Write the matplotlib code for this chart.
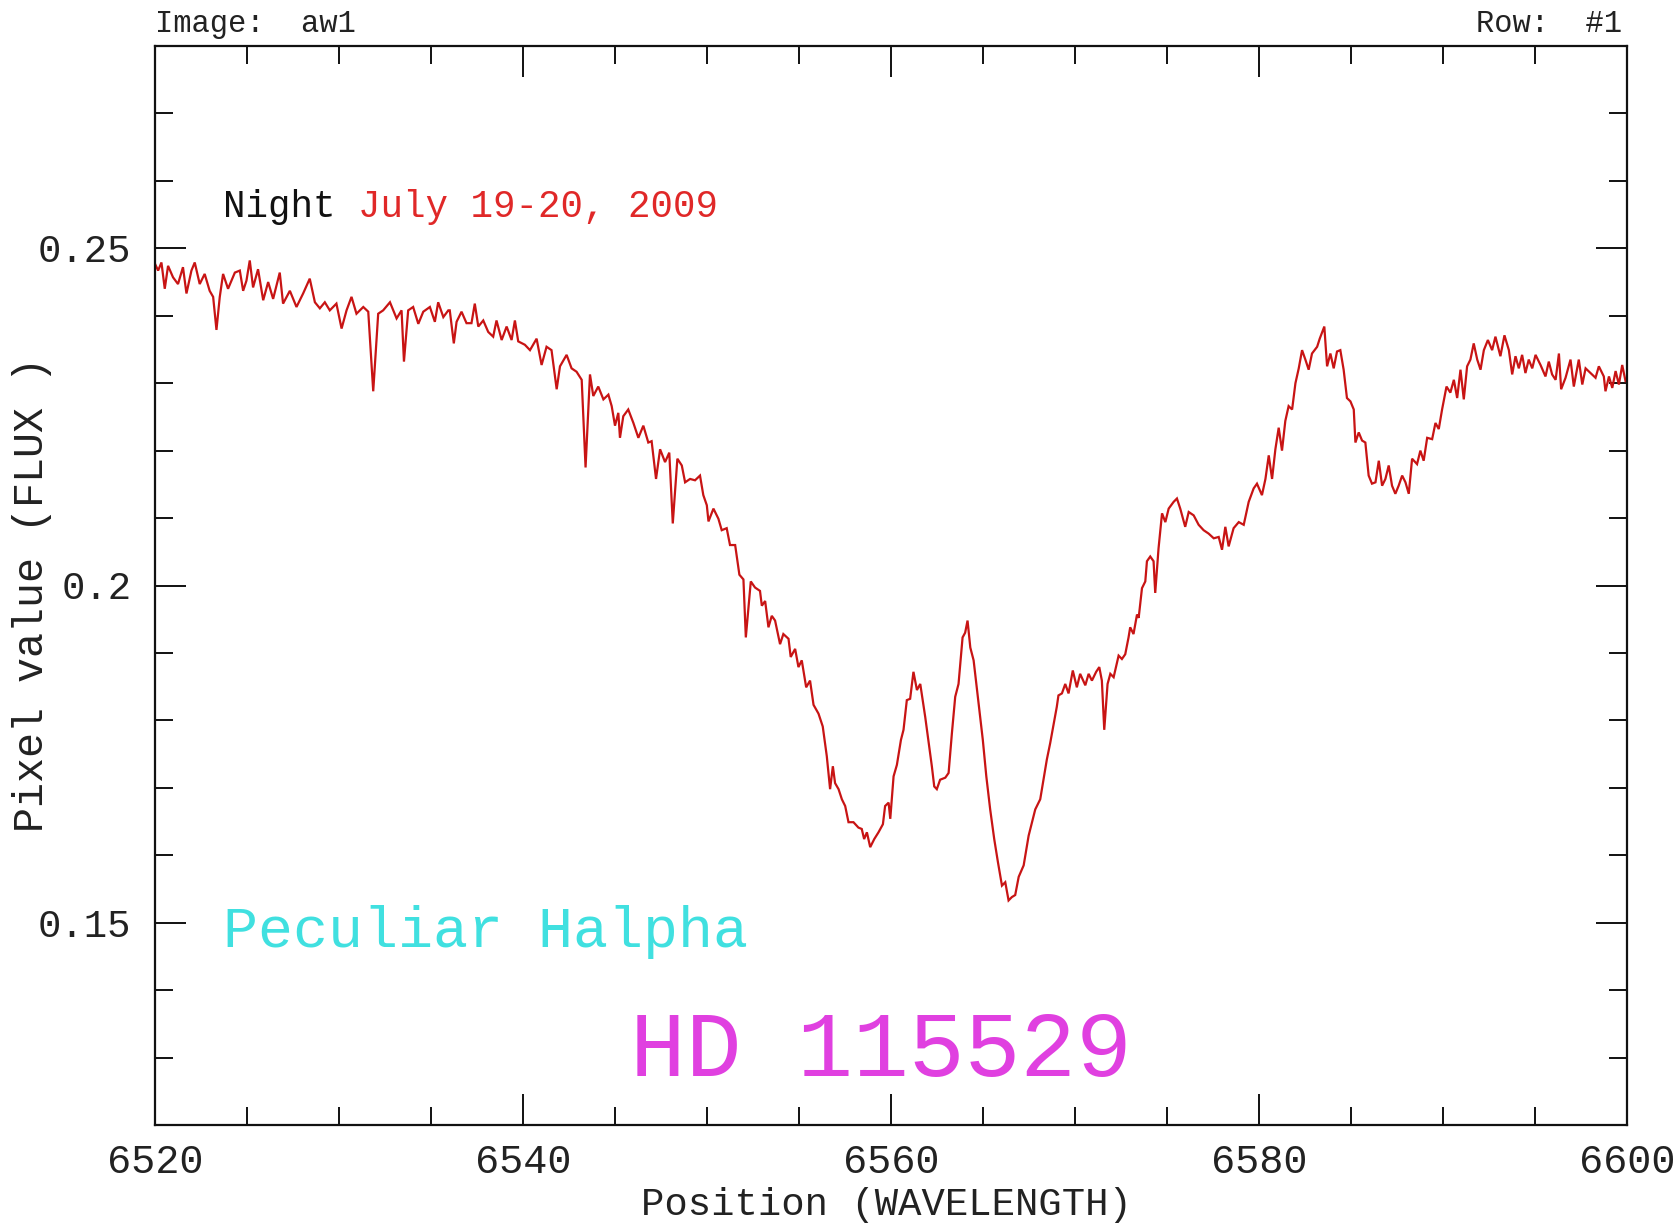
import matplotlib
matplotlib.use("Agg")
import matplotlib.pyplot as plt
from matplotlib.ticker import FixedLocator, MultipleLocator

plt.rcParams["font.family"] = ["Liberation Mono", "DejaVu Sans Mono"]

# Spectrum of HD 115529 around H-alpha (wavelength in Angstrom, flux in pixel units)
wavelength = [
    6520.00, 6520.17, 6520.35, 6520.53, 6520.71, 6520.98, 6521.25, 6521.52, 6521.71, 6521.98,
    6522.16, 6522.43, 6522.70, 6522.97, 6523.16, 6523.34, 6523.52, 6523.70, 6523.97, 6524.34,
    6524.61, 6524.79, 6524.97, 6525.15, 6525.33, 6525.60, 6525.88, 6526.15, 6526.42, 6526.78,
    6526.96, 6527.33, 6527.69, 6528.05, 6528.41, 6528.69, 6528.96, 6529.23, 6529.50, 6529.86,
    6530.14, 6530.41, 6530.68, 6530.95, 6531.32, 6531.59, 6531.86, 6532.13, 6532.40, 6532.77,
    6533.13, 6533.40, 6533.53, 6533.76, 6534.03, 6534.31, 6534.58, 6534.94, 6535.21, 6535.39,
    6535.67, 6535.94, 6536.02, 6536.24, 6536.39, 6536.66, 6536.93, 6537.20, 6537.38, 6537.57,
    6537.84, 6538.11, 6538.38, 6538.56, 6538.84, 6539.11, 6539.38, 6539.56, 6539.74, 6540.10,
    6540.38, 6540.74, 6541.01, 6541.28, 6541.55, 6541.83, 6542.01, 6542.37, 6542.64, 6542.91,
    6543.19, 6543.40, 6543.64, 6543.82, 6544.09, 6544.37, 6544.64, 6544.82, 6545.00, 6545.18,
    6545.27, 6545.45, 6545.72, 6546.00, 6546.27, 6546.54, 6546.81, 6546.99, 6547.23, 6547.45,
    6547.72, 6547.95, 6548.14, 6548.39, 6548.63, 6548.81, 6549.08, 6549.35, 6549.62, 6549.80,
    6549.99, 6550.08, 6550.35, 6550.62, 6550.80, 6551.07, 6551.25, 6551.53, 6551.76, 6551.98,
    6552.11, 6552.38, 6552.61, 6552.88, 6552.98, 6553.16, 6553.34, 6553.52, 6553.70, 6553.97,
    6554.15, 6554.43, 6554.55, 6554.79, 6554.97, 6555.15, 6555.39, 6555.60, 6555.79, 6556.06,
    6556.29, 6556.51, 6556.69, 6556.84, 6556.96, 6557.15, 6557.33, 6557.51, 6557.69, 6557.96,
    6558.23, 6558.41, 6558.54, 6558.69, 6558.87, 6559.09, 6559.32, 6559.56, 6559.68, 6559.87,
    6559.96, 6560.14, 6560.32, 6560.54, 6560.68, 6560.86, 6561.04, 6561.22, 6561.41, 6561.59,
    6561.86, 6562.08, 6562.22, 6562.35, 6562.49, 6562.67, 6562.95, 6563.13, 6563.31, 6563.49,
    6563.67, 6563.89, 6564.03, 6564.16, 6564.31, 6564.49, 6564.76, 6564.99, 6565.18, 6565.39,
    6565.61, 6565.81, 6566.03, 6566.21, 6566.39, 6566.57, 6566.75, 6566.94, 6567.21, 6567.48,
    6567.84, 6568.11, 6568.47, 6568.65, 6568.83, 6569.01, 6569.10, 6569.29, 6569.47, 6569.65,
    6569.88, 6570.10, 6570.28, 6570.56, 6570.74, 6570.92, 6571.15, 6571.32, 6571.46, 6571.59,
    6571.77, 6571.92, 6572.10, 6572.37, 6572.55, 6572.73, 6572.91, 6573.00, 6573.18, 6573.37,
    6573.46, 6573.64, 6573.82, 6573.91, 6574.09, 6574.27, 6574.36, 6574.54, 6574.73, 6574.91,
    6575.09, 6575.36, 6575.54, 6575.72, 6575.99, 6576.18, 6576.45, 6576.72, 6576.99, 6577.26,
    6577.54, 6577.81, 6577.99, 6578.17, 6578.35, 6578.62, 6578.90, 6579.17, 6579.44, 6579.71,
    6579.89, 6580.16, 6580.35, 6580.53, 6580.71, 6580.89, 6581.07, 6581.25, 6581.43, 6581.61,
    6581.80, 6581.98, 6582.16, 6582.34, 6582.52, 6582.70, 6582.88, 6583.16, 6583.30, 6583.55,
    6583.70, 6583.88, 6584.06, 6584.24, 6584.42, 6584.60, 6584.78, 6584.97, 6585.15, 6585.24,
    6585.42, 6585.60, 6585.78, 6585.96, 6586.14, 6586.33, 6586.51, 6586.69, 6586.87, 6587.05,
    6587.23, 6587.41, 6587.59, 6587.78, 6587.96, 6588.14, 6588.32, 6588.59, 6588.77, 6588.95,
    6589.14, 6589.41, 6589.59, 6589.77, 6589.95, 6590.19, 6590.40, 6590.59, 6590.77, 6590.95,
    6591.13, 6591.31, 6591.49, 6591.67, 6591.86, 6592.04, 6592.22, 6592.44, 6592.67, 6592.85,
    6593.12, 6593.34, 6593.58, 6593.76, 6593.94, 6594.12, 6594.30, 6594.48, 6594.66, 6594.85,
    6595.03, 6595.30, 6595.57, 6595.75, 6595.93, 6596.12, 6596.30, 6596.42, 6596.66, 6596.93,
    6597.11, 6597.38, 6597.57, 6597.75, 6598.02, 6598.29, 6598.47, 6598.74, 6598.83, 6599.02,
    6599.20, 6599.38, 6599.56, 6599.74, 6599.92,
]

flux = [
    0.2477, 0.2467, 0.2479, 0.2440, 0.2474, 0.2457, 0.2447, 0.2472, 0.2433, 0.2467,
    0.2479, 0.2447, 0.2462, 0.2437, 0.2428, 0.2379, 0.2428, 0.2462, 0.2440, 0.2464,
    0.2467, 0.2437, 0.2452, 0.2482, 0.2442, 0.2469, 0.2423, 0.2450, 0.2425, 0.2464,
    0.2418, 0.2437, 0.2413, 0.2433, 0.2455, 0.2420, 0.2411, 0.2420, 0.2408, 0.2418,
    0.2381, 0.2408, 0.2428, 0.2403, 0.2413, 0.2406, 0.2288, 0.2403, 0.2408, 0.2420,
    0.2396, 0.2408, 0.2332, 0.2408, 0.2413, 0.2388, 0.2406, 0.2413, 0.2391, 0.2420,
    0.2398, 0.2408, 0.2408, 0.2359, 0.2391, 0.2406, 0.2389, 0.2389, 0.2418, 0.2384,
    0.2393, 0.2376, 0.2369, 0.2393, 0.2364, 0.2384, 0.2364, 0.2393, 0.2362, 0.2357,
    0.2349, 0.2366, 0.2327, 0.2354, 0.2349, 0.2291, 0.2325, 0.2342, 0.2322, 0.2317,
    0.2305, 0.2175, 0.2313, 0.2281, 0.2295, 0.2276, 0.2283, 0.2266, 0.2237, 0.2256,
    0.2219, 0.2251, 0.2261, 0.2241, 0.2219, 0.2237, 0.2212, 0.2214, 0.2158, 0.2202,
    0.2183, 0.2197, 0.2092, 0.2188, 0.2178, 0.2153, 0.2158, 0.2156, 0.2163, 0.2134,
    0.2119, 0.2095, 0.2114, 0.2099, 0.2082, 0.2085, 0.2060, 0.2060, 0.2016, 0.2009,
    0.1923, 0.2006, 0.1997, 0.1992, 0.1970, 0.1977, 0.1938, 0.1955, 0.1948, 0.1913,
    0.1928, 0.1921, 0.1894, 0.1906, 0.1879, 0.1889, 0.1849, 0.1859, 0.1823, 0.1810,
    0.1791, 0.1747, 0.1698, 0.1732, 0.1707, 0.1698, 0.1683, 0.1673, 0.1649, 0.1649,
    0.1641, 0.1639, 0.1624, 0.1634, 0.1612, 0.1624, 0.1634, 0.1646, 0.1673, 0.1678,
    0.1654, 0.1717, 0.1734, 0.1771, 0.1786, 0.1830, 0.1832, 0.1872, 0.1845, 0.1854,
    0.1805, 0.1761, 0.1732, 0.1702, 0.1698, 0.1712, 0.1715, 0.1722, 0.1781, 0.1835,
    0.1854, 0.1923, 0.1930, 0.1948, 0.1908, 0.1889, 0.1825, 0.1771, 0.1717, 0.1668,
    0.1624, 0.1590, 0.1555, 0.1560, 0.1533, 0.1538, 0.1541, 0.1568, 0.1585, 0.1629,
    0.1668, 0.1683, 0.1742, 0.1766, 0.1793, 0.1820, 0.1837, 0.1840, 0.1854, 0.1840,
    0.1874, 0.1849, 0.1869, 0.1852, 0.1869, 0.1859, 0.1872, 0.1879, 0.1859, 0.1786,
    0.1854, 0.1869, 0.1864, 0.1896, 0.1891, 0.1898, 0.1923, 0.1938, 0.1928, 0.1957,
    0.1952, 0.1996, 0.2006, 0.2036, 0.2043, 0.2036, 0.1989, 0.2055, 0.2107, 0.2094,
    0.2114, 0.2124, 0.2129, 0.2114, 0.2087, 0.2109, 0.2104, 0.2090, 0.2082, 0.2077,
    0.2070, 0.2072, 0.2053, 0.2087, 0.2058, 0.2085, 0.2094, 0.2090, 0.2124, 0.2144,
    0.2151, 0.2134, 0.2158, 0.2193, 0.2158, 0.2202, 0.2234, 0.2200, 0.2244, 0.2266,
    0.2261, 0.2300, 0.2322, 0.2349, 0.2335, 0.2320, 0.2344, 0.2354, 0.2366, 0.2384,
    0.2325, 0.2344, 0.2322, 0.2347, 0.2349, 0.2320, 0.2278, 0.2273, 0.2261, 0.2212,
    0.2227, 0.2215, 0.2212, 0.2163, 0.2151, 0.2153, 0.2185, 0.2148, 0.2158, 0.2178,
    0.2148, 0.2136, 0.2148, 0.2163, 0.2153, 0.2136, 0.2188, 0.2180, 0.2200, 0.2185,
    0.2219, 0.2217, 0.2241, 0.2232, 0.2261, 0.2295, 0.2286, 0.2305, 0.2278, 0.2320,
    0.2276, 0.2325, 0.2335, 0.2359, 0.2335, 0.2320, 0.2349, 0.2364, 0.2349, 0.2369,
    0.2340, 0.2371, 0.2349, 0.2313, 0.2340, 0.2322, 0.2342, 0.2315, 0.2335, 0.2322,
    0.2342, 0.2327, 0.2310, 0.2332, 0.2313, 0.2305, 0.2344, 0.2291, 0.2308, 0.2335,
    0.2295, 0.2335, 0.2298, 0.2322, 0.2315, 0.2308, 0.2325, 0.2310, 0.2288, 0.2310,
    0.2293, 0.2318, 0.2298, 0.2327, 0.2303,
]

x_major_ticks = [6520, 6540, 6560, 6580, 6600]
x_tick_labels = ["6520", "6540", "6560", "6580", "6600"]
y_major_ticks = [0.15, 0.2, 0.25]
y_tick_labels = ["0.15", "0.2", "0.25"]

W, H = 1679, 1225
fig = plt.figure(figsize=(W / 100, H / 100), dpi=100)
left, right, top, bottom = 155, 1627, 46, 1125
ax = fig.add_axes([left / W, 1 - bottom / H, (right - left) / W, (bottom - top) / H])

ax.plot(wavelength, flux, color="#c81414", lw=1.6, solid_joinstyle="miter")

ax.set_xlim(6520, 6600)
ax.set_ylim(0.12, 0.28)

ax.xaxis.set_major_locator(FixedLocator(x_major_ticks))
ax.set_xticklabels(x_tick_labels)
ax.xaxis.set_minor_locator(MultipleLocator(5))
ax.yaxis.set_major_locator(FixedLocator(y_major_ticks))
ax.set_yticklabels(y_tick_labels)
ax.yaxis.set_minor_locator(MultipleLocator(0.01))

for side in ax.spines.values():
    side.set_linewidth(1.6)
    side.set_color("#111111")

ax.tick_params(which="both", direction="in", top=True, right=True, color="#111111", width=1.4)
ax.tick_params(which="major", length=22)
ax.tick_params(which="minor", length=13)
ax.tick_params(axis="x", which="major", labelsize=29, pad=13, labelcolor="#222222")
ax.tick_params(axis="y", which="major", labelsize=28, pad=17, labelcolor="#222222")

ax.set_xlabel("Position (WAVELENGTH)", fontsize=28, color="#222222")
ax.set_ylabel("Pixel value (FLUX )", fontsize=30, color="#222222")
# ylabel anchors at its right edge, xlabel at its top edge
ax.yaxis.set_label_coords(-(left - 52) / (right - left), 1 - (594 - top) / (bottom - top))
ax.xaxis.set_label_coords((886 - left) / (right - left), -(1187 - bottom) / (bottom - top))

# header line
fig.text(left / W, 1 - 24 / H, "Image:  aw1", fontsize=22, color="#222222", ha="left", va="center")
fig.text(1622 / W, 1 - 24 / H, "Row:  #1", fontsize=22, color="#222222", ha="right", va="center")

# annotations inside the plot
t = fig.text(223 / W, 1 - 207 / H, "Night ", fontsize=27, color="#111111", ha="left", va="center")
fig.canvas.draw()
bb = t.get_window_extent()
fig.text(bb.x1 / W, 1 - 207 / H, "July 19-20, 2009", fontsize=27, color="#e02828", ha="left", va="center")

fig.text(223 / W, 1 - 932 / H, "Peculiar Halpha", fontsize=42, color="#40e0e0", ha="left", va="center")
fig.text(630 / W, 1 - 1052 / H, "HD 115529", fontsize=67, color="#e040e0", ha="left", va="center")

fig.savefig("out.png", dpi=100, facecolor="white")
